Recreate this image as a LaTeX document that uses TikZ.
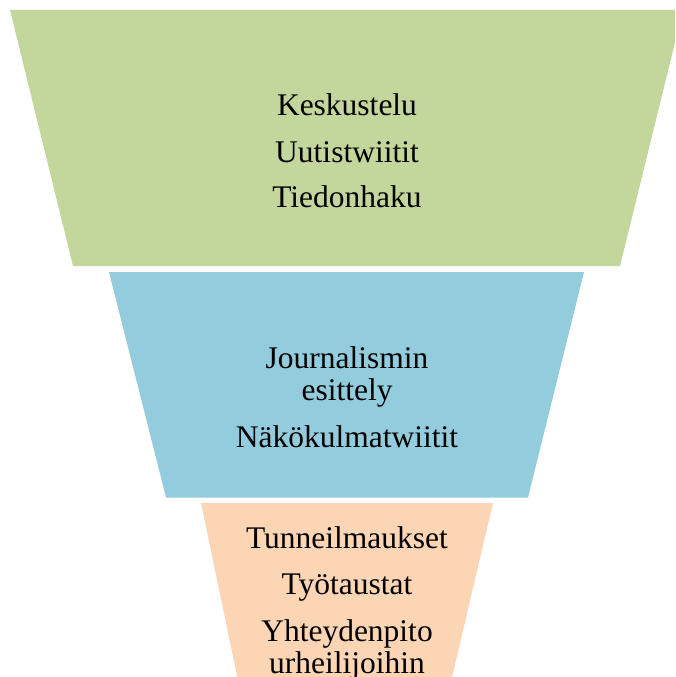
\documentclass[tikz,border=0pt]{standalone}
\usepackage{fontspec}
\setmainfont{Liberation Serif}
\definecolor{topgreen}{HTML}{C3D69B}
\definecolor{midblue}{HTML}{93CDDD}
\definecolor{botpeach}{HTML}{FCD5B5}
\tikzset{
  lbl/.style={anchor=base, inner sep=0pt, font=\fontsize{31.5}{32}\selectfont, text=black}
}
\begin{document}
\begin{tikzpicture}[x=1pt,y=-1pt]
\useasboundingbox (0,0) rectangle (675,677);
\clip (0,0) rectangle (675,677);
% funnel levels
\fill[topgreen] (10,10) -- (683,10) -- (620,266) -- (73,266) -- cycle;
\fill[midblue] (109,272) -- (584,272) -- (528,497.5) -- (166,497.5) -- cycle;
\fill[botpeach] (201,503) -- (493,503) -- (449,690) -- (240,690) -- cycle;
% texts
\node[lbl] (t1) at (347,115) {Keskustelu};
\node[lbl] (t2) at (347,162) {Uutistwiitit};
\node[lbl] (t3) at (347,207) {Tiedonhaku};
\node[lbl] (m1) at (347,368) {Journalismin};
\node[lbl] (m2) at (347,400) {esittely};
\node[lbl] (m3) at (347,447) {Näkökulmatwiitit};
\node[lbl] (b1) at (347,548) {Tunneilmaukset};
\node[lbl] (b2) at (347,594) {Työtaustat};
\node[lbl] (b3) at (347,641) {Yhteydenpito};
\node[lbl] (b4) at (347,673) {urheilijoihin};
\end{tikzpicture}
\end{document}
